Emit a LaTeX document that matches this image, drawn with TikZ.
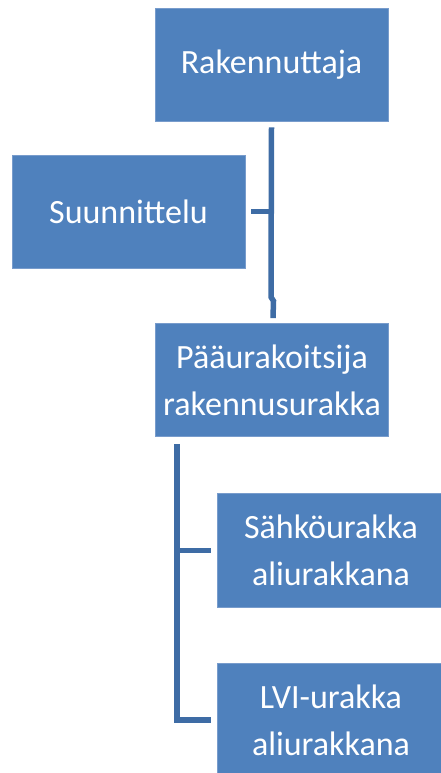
\documentclass[tikz,border=0pt]{standalone}
\usepackage{fontspec}
\setmainfont{Carlito}
\usepackage{xcolor}
\usepackage{tikz}
\usetikzlibrary{positioning,calc}

\definecolor{boxblue}{RGB}{79,129,189}
\definecolor{boxedge}{RGB}{120,156,204}
\definecolor{linkblue}{RGB}{62,108,165}

\begin{document}
\begin{tikzpicture}[x=1pt, y=-1pt,
  box/.style={draw=boxedge, line width=0.8pt, fill=boxblue, text=white,
    minimum width=233pt, minimum height=113pt, inner sep=0pt,
    align=center, font=\fontsize{34}{47}\selectfont},
  link/.style={draw=linkblue, line width=5.5pt}]

\clip (0,0) rectangle (441,773);

\node[box] (rak) at (271.5,64.5) {Rakennuttaja};
\node[box] (suun) at (128.5,211.5) {Suunnittelu};
\node[box] (paa) at (272,380) {Pääurakoitsija\\rakennusurakka};
\node[box, minimum width=228pt, minimum height=114pt] (sahko) at (331,550.5) {Sähköurakka\\aliurakkana};
\node[box, minimum width=228pt, minimum height=114pt] (lvi) at (331,720) {LVI-urakka\\aliurakkana};

% ylempi runko
\coordinate (bend) at (271,297);
\draw[link] ([yshift=-6pt]rak.south) -- (bend) -- ++(2.5,4) -- ([xshift=1pt,yshift=5pt]paa.north);
\draw[link] ([xshift=6pt]suun.east) -- (suun.east -| bend);

% alempi runko
\coordinate (trunk) at ([xshift=22pt,yshift=-7pt]paa.south west);
\draw[link] (trunk) |- ([xshift=-6pt]lvi.west);
\draw[link] (trunk |- sahko.west) -- ([xshift=-6pt]sahko.west);
\end{tikzpicture}
\end{document}
